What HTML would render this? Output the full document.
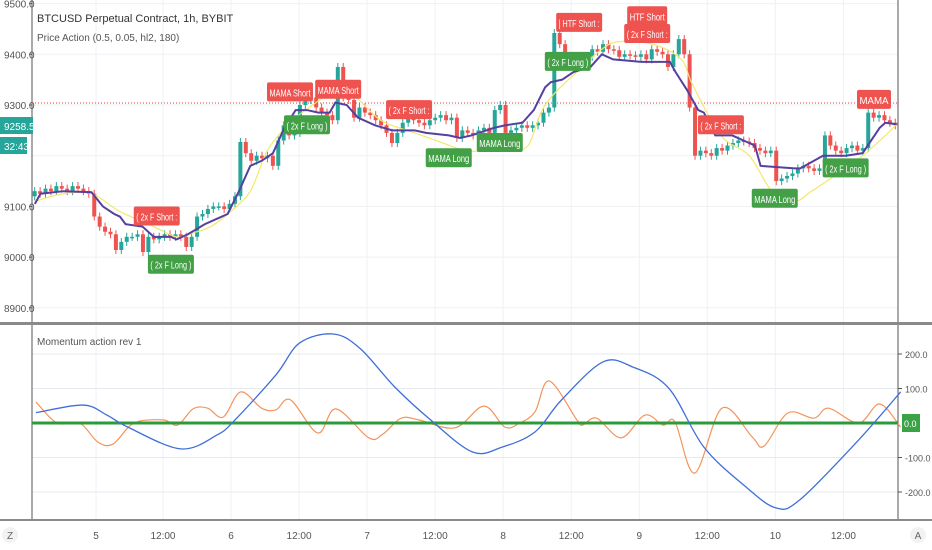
<!DOCTYPE html>
<html><head><meta charset="utf-8">
<style>
body{margin:0;background:#fff;font-family:"Liberation Sans",sans-serif;}
svg{display:block}
text{font-family:"Liberation Sans",sans-serif;}
</style></head>
<body>
<svg id="c" width="932" height="550" viewBox="0 0 932 550"></svg>
<script>
// ---------- data ----------
const closes=[9130,9125,9135,9130,9140,9135,9130,9140,9135,9130,9125,9080,9060,9050,9045,9014,9030,9040,9040,9045,9010,9040,9035,9040,9045,9040,9045,9040,9020,9040,9080,9085,9095,9100,9100,9095,9105,9120,9227,9205,9190,9200,9195,9200,9180,9230,9260,9240,9245,9300,9310,9315,9295,9285,9280,9270,9375,9315,9310,9275,9295,9285,9280,9270,9260,9245,9225,9245,9265,9275,9270,9265,9260,9270,9275,9280,9270,9275,9235,9250,9245,9240,9250,9255,9245,9290,9300,9245,9250,9255,9260,9255,9260,9265,9285,9295,9442,9420,9390,9385,9395,9390,9395,9410,9405,9420,9410,9408,9395,9400,9398,9395,9400,9390,9410,9405,9400,9375,9400,9430,9400,9295,9200,9210,9205,9200,9215,9210,9220,9225,9230,9228,9225,9215,9210,9205,9210,9150,9155,9160,9165,9175,9180,9175,9170,9175,9240,9220,9210,9205,9215,9220,9210,9215,9285,9275,9280,9270,9265,9260];
const openPrice=9120;
const mamaT=[0,1,5,10,12,14,15,16,19,21,24,25,27,30,32,34,36,38,40,42,44,46,48,50,52,53,55,57,60,63,67,69,73,75,77,81,83,86,88,90,91,93,95,98,100,102,107,112,113,115,117,118,120,123,125,127,128,134,135,139,143,146,149,150,152];
const mamaV=[9105,9125,9130,9128,9100,9085,9080,9065,9060,9040,9040,9035,9045,9065,9075,9085,9130,9180,9190,9205,9255,9290,9290,9285,9285,9305,9300,9275,9260,9250,9250,9245,9240,9235,9240,9255,9260,9265,9290,9335,9345,9350,9365,9375,9400,9390,9385,9385,9365,9330,9290,9285,9240,9240,9230,9220,9180,9175,9175,9200,9200,9205,9255,9265,9262];
const famaT=[0,5,10,15,21,25,28,31,34,38,41,45,49,52,56,61,67,72,76,81,84,87,90,96,100,103,109,114,116,121,126,130,134,137,141,146,150,152];
const famaV=[9110,9125,9125,9090,9060,9040,9048,9060,9085,9130,9210,9265,9300,9320,9320,9270,9245,9225,9210,9210,9215,9220,9300,9370,9410,9425,9420,9390,9340,9240,9200,9130,9110,9130,9160,9200,9240,9262];
const blueT=[0.2,8.5,12.7,16.4,25.7,32.1,35.3,42.5,46.7,52.6,57.3,63.5,69.8,77.2,82.4,88.2,92.9,100.2,105.5,111.8,118,125.4,130.7,134.9,145.3,152.7];
const blueV=[30,52,23,-12,-75,-35,9,139,232,258,217,104,9,-84,-70,-26,67,177,162,101,-70,-185,-246,-223,-49,90];
const orT=[0.2,3.9,7.9,11.1,13.8,17.5,22.6,25.2,27.9,30.5,33.2,36.3,40,42.5,45.1,49.9,53.1,58.9,61.4,64.6,67.7,74.1,79.2,82.9,85.5,88.2,90.7,95.6,96.6,99.1,103.4,107.6,110.8,112.9,116.4,121.2,126.5,128.6,132.8,137.4,140,145.3,149,152.7];
const orV=[61,0,0,-55,-61,0,9,-6,41,43,17,90,43,38,67,-29,41,-43,-32,14,9,-14,49,-12,0,32,122,9,-6,14,-43,23,-6,3,-145,43,-40,-67,29,14,43,0,55,-12];
const priceTicks=[9500,9400,9300,9100,9000,8900];
const oscTicks=[200,100,-100,-200];
const timeLabels=["5","12:00","6","12:00","7","12:00","8","12:00","9","12:00","10","12:00"];
const timeLabelIdx=[10.8,22.6,34.6,46.6,58.6,70.6,82.6,94.6,106.6,118.6,130.6,142.6];
const markText=["MAMA Short","MAMA Short","( 2x F Short :","( 2x F Long )","( 2x F Long )","( 2x F Short :","MAMA Long","MAMA Long","| HTF Short :","( 2x F Long )","HTF Short","( 2x F Short :","( 2x F Short :","MAMA Long","( 2x F Long )","MAMA"];
const markIdx=[45,53.5,21.5,24,48,66,73,82,96,94,108,108,121,130.5,143,148];
const markPrice=[9325,9330,9080,8985,9260,9290,9195,9225,9462,9385,9475,9440,9260,9115,9175,9310];
const markLong=[0,0,0,1,1,0,1,1,0,1,0,0,0,1,1,0];
// ---------- scales ----------
const X=i=>32+(i+0.5)*5.67;
const XC=i=>32+(i+0.5)*866/closes.length;
const PY=p=>105-(p-9300)*0.507;
const OY=v=>423-v*0.345;
const svg=document.getElementById('c');const NS="http://www.w3.org/2000/svg";
function mk(t,a,p){const e=document.createElementNS(NS,t);for(const k in a)e.setAttribute(k,a[k]);(p||svg).appendChild(e);return e;}
function smooth(pts){let d="M"+pts[0][0]+","+pts[0][1];for(let i=0;i<pts.length-1;i++){const p0=pts[Math.max(0,i-1)],p1=pts[i],p2=pts[i+1],p3=pts[Math.min(pts.length-1,i+2)];const c1x=p1[0]+(p2[0]-p0[0])/6,c1y=p1[1]+(p2[1]-p0[1])/6,c2x=p2[0]-(p3[0]-p1[0])/6,c2y=p2[1]-(p3[1]-p1[1])/6;d+=` C${c1x},${c1y} ${c2x},${c2y} ${p2[0]},${p2[1]}`;}return d;}
const grid=mk('g',{});
timeLabelIdx.forEach(t=>{mk('line',{x1:X(t),x2:X(t),y1:0,y2:520,stroke:'#eef1f5'},grid);});
priceTicks.concat([9200]).forEach(p=>mk('line',{x1:32,x2:898,y1:PY(p),y2:PY(p),stroke:'#eef1f5'},grid));
oscTicks.forEach(v=>mk('line',{x1:32,x2:898,y1:OY(v),y2:OY(v),stroke:'#e6eaf0'},grid));
mk('line',{x1:32,x2:32,y1:0,y2:520,stroke:'#555'});
mk('line',{x1:898,x2:898,y1:0,y2:520,stroke:'#555'});
const sep=mk('rect',{x:0,y:322,width:932,height:3,fill:'#8a8a8a'});
mk('rect',{x:0,y:519,width:932,height:2,fill:'#8a8a8a'});
priceTicks.forEach(p=>{const t=mk('text',{x:4,y:PY(p)+4,'font-size':10,fill:'#555'});t.textContent=p.toFixed(1);mk('line',{x1:29,x2:32,y1:PY(p),y2:PY(p),stroke:'#555'});});
const rl=mk('line',{x1:32,x2:898,y1:103,y2:103,stroke:'#e53935','stroke-dasharray':'1,2'});
const cg=mk('g',{});
closes.forEach((c,i)=>{const o=i?closes[i-1]:openPrice;const up=c>=o;const col=up?'#26a69a':'#ef5350';const x=XC(i);const hi=Math.max(o,c)+8,lo=Math.min(o,c)-8;
mk('line',{x1:x,x2:x,y1:PY(hi),y2:PY(lo),stroke:col,'stroke-width':1},cg);
const r=mk('rect',{x:x-2,width:4,y:PY(Math.max(o,c)),height:Math.max(1.5,Math.abs(PY(o)-PY(c))),fill:col},cg);
});
const fp=mk('path',{d:smooth(famaT.map((t,i)=>[X(t),PY(famaV[i])])),fill:'none',stroke:'#f3e86a','stroke-width':1.2});
const mp=mk('path',{d:'M'+mamaT.map((t,i)=>X(t)+','+PY(mamaV[i])).join(' L'),fill:'none',stroke:'#5540a0','stroke-width':2});
markText.forEach((s,i)=>{const g=mk('g',{});
const w=s==='MAMA'?34:(s==='HTF Short'?40:46);const x=X(markIdx[i])-w/2,y=PY(markPrice[i]);const col=markLong[i]?'#43a047':'#ef5350';
mk('rect',{x:x,y:y-10,width:w,height:19,rx:2,fill:col},g);
const t=mk('text',{x:x+w/2,y:y+4,'font-size':10.5,fill:'#fff','text-anchor':'middle',textLength:w-5,lengthAdjust:'spacingAndGlyphs'},g);t.textContent=s;});
mk('rect',{x:899,y:0,width:33,height:322,fill:'#fff'});
const l1=mk('text',{x:37,y:22,'font-size':11,fill:'#333'});l1.textContent='BTCUSD Perpetual Contract, 1h, BYBIT';
const l2=mk('text',{x:37,y:41,'font-size':10,fill:'#555'});l2.textContent='Price Action (0.5, 0.05, hl2, 180)';
const b1=mk('g',{});
mk('rect',{x:0,y:117,width:33,height:17,fill:'#26a69a'},b1);const bt=mk('text',{x:4,y:130,'font-size':10,fill:'#fff'},b1);bt.textContent='9258.5';
mk('rect',{x:0,y:137,width:27,height:17,fill:'#26a69a'},b1);const bt2=mk('text',{x:4,y:150,'font-size':10,fill:'#fff'},b1);bt2.textContent='32:43';
const l3=mk('text',{x:37,y:345,'font-size':10,fill:'#555'});l3.textContent='Momentum action rev 1';
const op=mk('path',{d:smooth(orT.map((t,i)=>[X(t),OY(orV[i])])),fill:'none',stroke:'#f4935a','stroke-width':1.2});
const zl=mk('line',{x1:32,x2:898,y1:OY(0),y2:OY(0),stroke:'#2e9b3a','stroke-width':3});
const bp=mk('path',{d:smooth(blueT.map((t,i)=>[X(t),OY(blueV[i])])),fill:'none',stroke:'#3f6fd8','stroke-width':1.3});
oscTicks.forEach(v=>{mk('line',{x1:898,x2:902,y1:OY(v),y2:OY(v),stroke:'#555'});const t=mk('text',{x:905,y:OY(v)+4,'font-size':9,fill:'#555'});t.textContent=v.toFixed(1);});
const zb=mk('g',{});
mk('rect',{x:902,y:414,width:18,height:18,fill:'#3aa345'},zb);const zt=mk('text',{x:904,y:427,'font-size':9,fill:'#fff'},zb);zt.textContent='0.0';
timeLabels.forEach((s,i)=>{const t=mk('text',{x:X(timeLabelIdx[i]),y:539,'font-size':10,fill:'#555','text-anchor':'middle'});t.textContent=s;});
[[10,'Z','timezone-button'],[918,'A','auto-scale-button']].forEach(a=>{const g=mk('g',{});mk('circle',{cx:a[0],cy:535,r:8,fill:'#f2f2f2'},g);const t=mk('text',{x:a[0],y:539,'font-size':10,fill:'#666','text-anchor':'middle'},g);t.textContent=a[1];});
</script>
</body></html>
